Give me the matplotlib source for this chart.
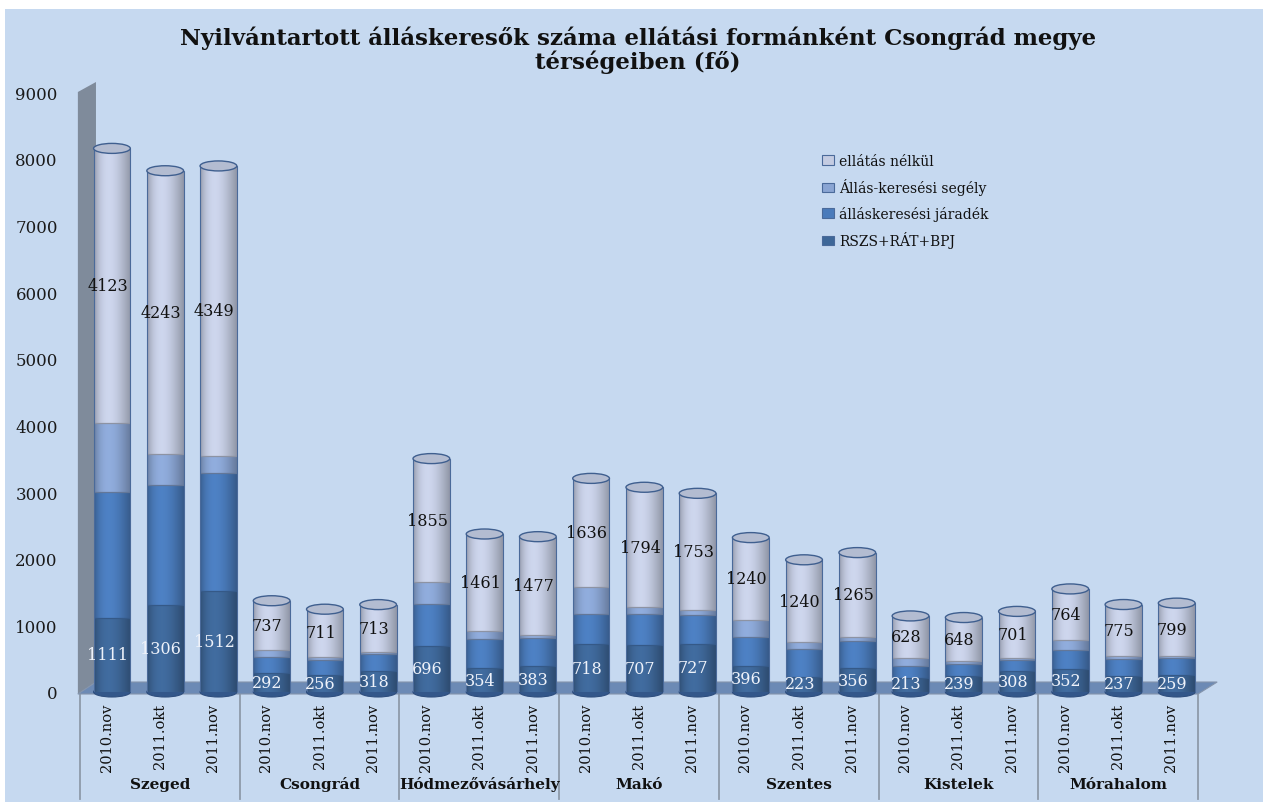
import numpy as np
import matplotlib
matplotlib.use('Agg')
import matplotlib.pyplot as plt
from matplotlib.patches import Ellipse, Polygon, Rectangle, Patch

regions = ['Szeged', 'Csongrád', 'Hódmezővásárhely', 'Makó', 'Szentes', 'Kistelek', 'Mórahalom']
periods = ['2010.nov', '2011.okt', '2011.nov']
rszs = [1111, 1306, 1512, 292, 256, 318, 696, 354, 383, 718, 707, 727,
        396, 223, 356, 213, 239, 308, 352, 237, 259]
jaradek = [1890, 1800, 1780, 230, 230, 250, 620, 435, 420, 450, 470, 430,
           430, 420, 410, 180, 180, 170, 280, 260, 255]
segely = [1030, 470, 250, 110, 45, 30, 330, 120, 50, 400, 100, 70,
          250, 100, 60, 120, 50, 30, 150, 40, 20]
nelkul = [4123, 4243, 4349, 737, 711, 713, 1855, 1461, 1477, 1636, 1794, 1753,
          1240, 1240, 1265, 628, 648, 701, 764, 775, 799]
series_names = ['RSZS+RÁT+BPJ', 'álláskeresési járadék', 'Állás-keresési segély', 'ellátás nélkül']
title = 'Nyilvántartott álláskeresők száma ellátási formánként Csongrád megye\ntérségeiben (fő)'

colors = ['#3E6798', '#4A7BBB', '#8AA5D3', '#C4CCE2']
W, H = 1263, 803
SERIF = ['DejaVu Serif']

fig = plt.figure(figsize=(W / 100, H / 100), dpi=100, facecolor='white')
fig.patches.append(Rectangle((5 / W, 0), 1 - 5 / W, 1 - 10 / H, transform=fig.transFigure,
                             facecolor='#C6D9F0', edgecolor='none', zorder=-10))
ax = fig.add_axes([80 / W, 1 - 693 / H, 1118 / W, 600 / H])
ax.set_zorder(1)
ax.patch.set_visible(False)
for s in ax.spines.values():
    s.set_visible(False)

n = len(rszs)
x = np.arange(n)
xb = x + 0.1
bw = 0.69
pxu = 600 / 9000.0  # px per data unit

def dy(px):
    return px / pxu

# wall and floor
ax.add_patch(Polygon([(-0.54, -dy(2)), (-0.54, 9000), (-0.2, 9000 + dy(10)), (-0.2, dy(10))],
                     closed=True, facecolor='#7F8B9B', edgecolor='none', zorder=1, clip_on=False))
ax.add_patch(Polygon([(-0.54, -dy(2)), (20.5, -dy(2)), (20.86, dy(10)), (-0.2, dy(10))],
                     closed=True, facecolor='#6C8AB5', edgecolor='#8494AC', lw=0.8, zorder=1.2, clip_on=False))

stack = [rszs, jaradek, segely, nelkul]
t = np.linspace(0, 1, 64)
prof = 0.74 + 0.31 * np.sin(np.pi * t ** 0.75)
bottom = np.zeros(n)
cap_h = dy(10)
# bottom ellipses
for i in range(n):
    ax.add_patch(Ellipse((xb[i], 0), bw, cap_h, facecolor='#33578A', edgecolor='#2E4E7E',
                         lw=0.8, zorder=1.5, clip_on=False))
for k, vals in enumerate(stack):
    vals = np.array(vals, dtype=float)
    bars = ax.bar(xb, vals, bw, bottom=bottom, color=colors[k], edgecolor='none', zorder=2)
    base = np.array(matplotlib.colors.to_rgb(colors[k]))
    grad = np.clip(base[None, None, :] * prof[None, :, None], 0, 1)
    for p in bars.patches:
        im = ax.imshow(grad, extent=[p.get_x(), p.get_x() + p.get_width(),
                                     p.get_y(), p.get_y() + p.get_height()],
                       aspect='auto', zorder=2.1, interpolation='bilinear')
        im.set_clip_path(p)
    if k > 0:
        ax.hlines(bottom, xb - bw / 2, xb + bw / 2, colors=[tuple(base * 0.72)], lw=0.9, zorder=2.3)
    bottom = bottom + vals
totals = bottom
ax.bar(xb, totals, bw, fill=False, edgecolor='#4A6A9A', lw=0.8, zorder=2.5)
for i in range(n):
    ax.add_patch(Ellipse((xb[i], totals[i]), bw, cap_h, facecolor='#B3BCD1', edgecolor='#3F5F8F',
                         lw=1.0, zorder=2.6))

# data labels
nb = np.array(rszs) + np.array(jaradek) + np.array(segely)
for i in range(n):
    ax.text(xb[i] - 0.08, nb[i] + nelkul[i] / 2, str(nelkul[i]), ha='center', va='center',
            fontsize=11.5, family=SERIF, color='#111111', zorder=4)
    ax.text(xb[i] - 0.08, max(rszs[i] / 2, dy(8)), str(rszs[i]), ha='center', va='center',
            fontsize=11.5, family=SERIF, color='#EEF2FA', zorder=4)

# category axis
for g in range(len(regions) + 1):
    xs = g * 3 - 0.5
    ax.plot([xs, xs], [-dy(2), -dy(107)], color='#8E9AAA', lw=1.3, clip_on=False, zorder=1)
for i in range(n):
    ax.text(x[i], -dy(11), periods[i % 3], rotation=90, ha='center', va='top',
            fontsize=10.5, family=SERIF, color='#111111')
for g, r in enumerate(regions):
    ax.text(g * 3 + 1, -dy(92), r, ha='center', va='center', fontsize=11,
            family=SERIF, weight='bold', color='#111111')

ax.set_xlim(-0.5, 20.5)
ax.set_ylim(0, 9000)
ax.set_xticks([])
ax.set_yticks(range(0, 9001, 1000))
ax.tick_params(axis='y', length=0, pad=16, labelsize=12, labelcolor='#1A1A1A')
for lab in ax.get_yticklabels():
    lab.set_family(SERIF)

fig.text(638 / W, 1 - 50 / H, title, ha='center', va='center', fontsize=16.5, weight='bold',
         family=SERIF, color='#111111', linespacing=1.05)

handles = [Patch(facecolor=colors[k], edgecolor='#4A6A9A', lw=0.8) for k in range(4)][::-1]
leg = fig.legend(handles, series_names[::-1], loc='upper left',
                 bbox_to_anchor=(815 / W, 1 - 148 / H), frameon=False,
                 prop={'family': SERIF, 'size': 10}, labelspacing=0.75,
                 handlelength=0.9, handleheight=0.65, handletextpad=0.35, borderpad=0)
for txt in leg.get_texts():
    txt.set_color('#111111')

fig.savefig('out.png', dpi=100, facecolor='white')
